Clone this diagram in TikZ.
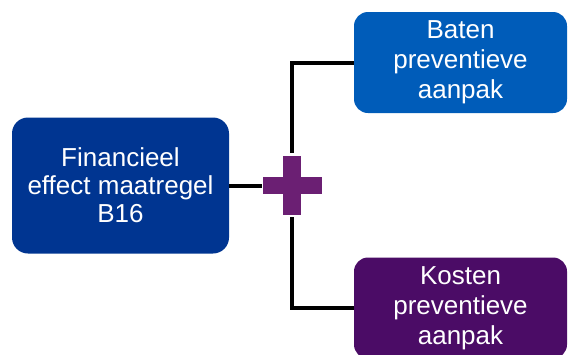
\documentclass[tikz,border=0pt]{standalone}
\usepackage{fontspec}
\setmainfont{Liberation Sans}
\definecolor{donkerblauw}{RGB}{0,53,145}
\definecolor{middenblauw}{RGB}{0,92,185}
\definecolor{paars}{RGB}{107,31,115}
\definecolor{donkerpaars}{RGB}{75,12,102}
\begin{document}
\begin{tikzpicture}[x=1pt,y=-1pt,
  boite/.style={rounded corners=14pt, text=white, align=center, inner sep=0pt,
    font=\fontsize{26}{30}\selectfont},
  lien/.style={line width=4pt},
  croix/.style={fill=paars, inner sep=0pt}]
  \pgfmathsetmacro{\largeur}{568}
  \pgfmathsetmacro{\hauteur}{354}
  \pgfmathsetmacro{\milieu}{185.5}
  \pgfmathsetmacro{\croixx}{292}
  \clip (0,0) rectangle (\largeur,\hauteur);
  \useasboundingbox (0,0) rectangle (\largeur,\hauteur);
  \node[boite, fill=donkerblauw, minimum width=217pt, minimum height=136pt,
    rounded corners=16pt, font=\fontsize{26}{28}\selectfont]
    (fin) at (120.5,\milieu) {Financieel\\effect maatregel\\B16};
  \node[boite, fill=middenblauw, minimum width=213pt, minimum height=101pt]
    (baten) at (460.5,62.5) {Baten\\preventieve\\aanpak};
  \node[boite, fill=donkerpaars, minimum width=213pt, minimum height=101pt]
    (kosten) at (460.5,308) {Kosten\\preventieve\\aanpak};
  % het plusteken
  \node[croix, minimum width=59pt, minimum height=17pt] (croixh) at (\croixx,\milieu) {};
  \node[croix, minimum width=18pt, minimum height=59pt] (croixv) at (\croixx,\milieu) {};
  \draw[lien] (fin.east) -- (croixh.west);
  \draw[lien, shorten <=3pt] (croixv.north) |- (baten.west);
  \draw[lien, shorten <=2pt] (croixv.south) |- (kosten.west);
\end{tikzpicture}
\end{document}
